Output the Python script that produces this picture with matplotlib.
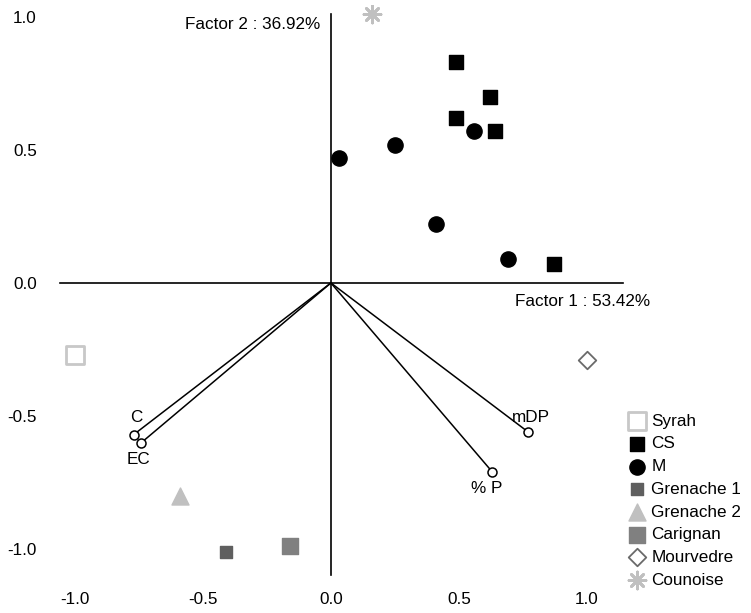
import matplotlib
matplotlib.use("Agg")
import matplotlib.pyplot as plt

plt.rcParams['font.family'] = ['Liberation Sans', 'DejaVu Sans']
plt.rcParams['axes.unicode_minus'] = False

# factor scores of the wine samples (Factor 1, Factor 2)
cs_x = [0.49, 0.62, 0.49, 0.64, 0.87]
cs_y = [0.83, 0.70, 0.62, 0.57, 0.07]
m_x = [0.03, 0.25, 0.56, 0.41, 0.69]
m_y = [0.47, 0.52, 0.57, 0.22, 0.09]
syrah = (-1.00, -0.27)
grenache1 = (-0.41, -1.01)
grenache2 = (-0.59, -0.80)
carignan = (-0.16, -0.99)
mourvedre = (1.00, -0.29)
counoise = (0.16, 1.01)

# variable loadings
var_names = ['C', 'EC', 'mDP', '% P']
var_x = [-0.77, -0.74, 0.77, 0.63]
var_y = [-0.57, -0.60, -0.56, -0.71]

ticks = [-1.0, -0.5, 0.0, 0.5, 1.0]
fs = 12.3

fig = plt.figure(figsize=(7.51, 6.13), dpi=100)
ax = fig.add_axes([0.0599, 0.0408, 0.9254, 0.951])
ax.set_xlim(-1.117, 1.598)
ax.set_ylim(-1.147, 1.045)
for s in ax.spines.values():
    s.set_visible(False)
ax.set_xticks(ticks)
ax.set_yticks(ticks)
ax.set_xticklabels(['%.1f' % t for t in ticks])
ax.set_yticklabels(['%.1f' % t for t in ticks])
ax.tick_params(length=0, labelsize=fs, pad=6)
ax.tick_params(axis='x', pad=3)

# axes cross
ax.plot([-1.06, 1.14], [0, 0], color='black', lw=1.2, zorder=1)
ax.plot([0, 0], [-1.10, 1.01], color='black', lw=1.2, zorder=1)
ax.text(-0.04, 0.97, 'Factor 2 : 36.92%', ha='right', va='center', fontsize=fs)
ax.text(0.72, -0.07, 'Factor 1 : 53.42%', ha='left', va='center', fontsize=fs)

# loading vectors
for name, vx, vy in zip(var_names, var_x, var_y):
    ax.plot([0, vx], [0, vy], color='black', lw=1.1, zorder=2)
ax.scatter(var_x, var_y, s=42, facecolors='white', edgecolors='black',
           linewidths=1.1, zorder=3)
ax.text(var_x[0] + 0.01, var_y[0] + 0.035, var_names[0], ha='center', va='bottom', fontsize=fs)
ax.text(var_x[1] - 0.01, var_y[1] - 0.035, var_names[1], ha='center', va='top', fontsize=fs)
ax.text(var_x[2] + 0.01, var_y[2] + 0.025, var_names[2], ha='center', va='bottom', fontsize=fs)
ax.text(var_x[3] - 0.02, var_y[3] - 0.035, var_names[3], ha='center', va='top', fontsize=fs)

h = []
h.append(ax.scatter([syrah[0]], [syrah[1]], marker='s', s=150, facecolors='white',
                    edgecolors='#c8c8c8', linewidths=2, label='Syrah', zorder=4))
h.append(ax.scatter(cs_x, cs_y, marker='s', s=95, color='black', label='CS', zorder=4))
h.append(ax.scatter(m_x, m_y, marker='o', s=120, color='black', label='M', zorder=4))
h.append(ax.scatter([grenache1[0]], [grenache1[1]], marker='s', s=85, color='#5f5f5f',
                    label='Grenache 1', zorder=4))
h.append(ax.scatter([grenache2[0]], [grenache2[1]], marker='^', s=150, color='#c0c0c0',
                    label='Grenache 2', zorder=4))
h.append(ax.scatter([carignan[0]], [carignan[1]], marker='s', s=135, color='#808080',
                    label='Carignan', zorder=4))
h.append(ax.scatter([mourvedre[0]], [mourvedre[1]], marker='D', s=80, facecolors='white',
                    edgecolors='#6a6a6a', linewidths=1.3, label='Mourvedre', zorder=4))
h.append(ax.scatter([counoise[0]], [counoise[1]], marker=(8, 2, 0), s=150, color='#c0c0c0',
                    linewidths=2, label='Counoise', zorder=4))

fig.legend(handles=h, loc='upper left', bbox_to_anchor=(0.839, 0.325), frameon=False,
           fontsize=fs, handlelength=0.8, handletextpad=0.45, labelspacing=0.45,
           borderpad=0, borderaxespad=0, scatterpoints=1)

fig.savefig('out.png', dpi=100)
